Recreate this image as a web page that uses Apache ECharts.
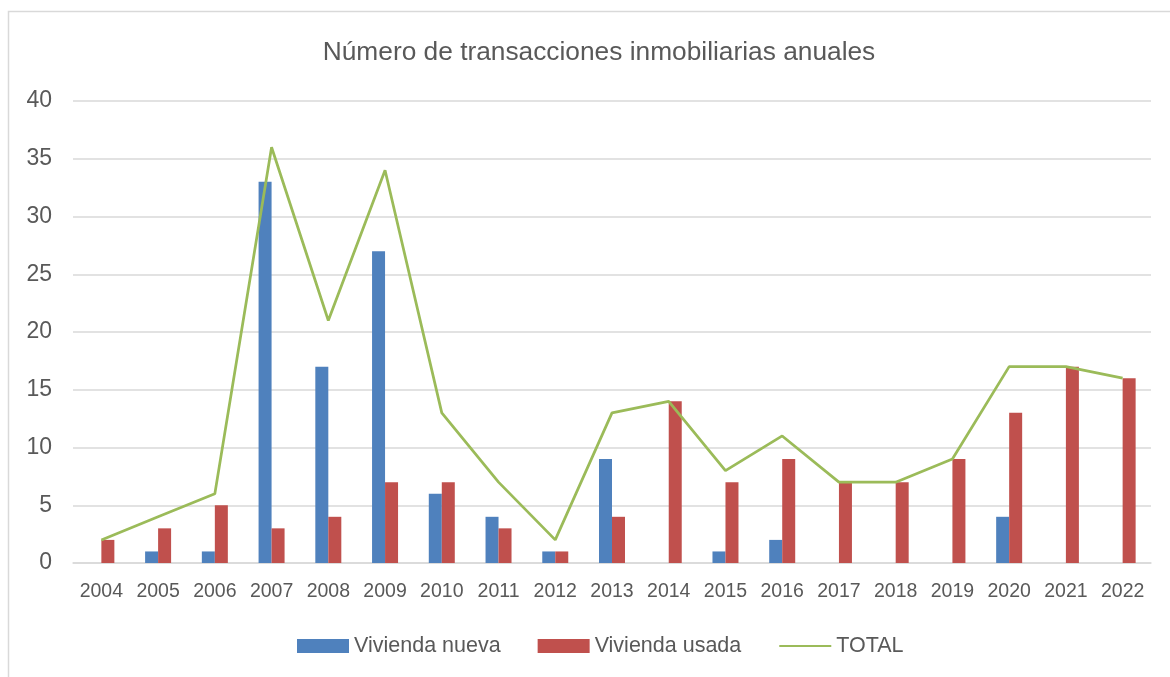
<!DOCTYPE html>
<html>
<head>
<meta charset="utf-8">
<style>
  html, body { margin: 0; padding: 0; background: #ffffff; }
  #chart { width: 1170px; height: 677px; }
</style>
<script src="https://cdn.jsdelivr.net/npm/echarts@6/dist/echarts.min.js"></script>
</head>
<body>
<div id="chart"></div>
<script>
// Annual property transactions by type
const years = ['2004','2005','2006','2007','2008','2009','2010','2011','2012','2013',
               '2014','2015','2016','2017','2018','2019','2020','2021','2022'];
const viviendaNueva = [0, 1, 1, 33, 17, 27, 6, 4, 1, 9, 0, 1, 2, 0, 0, 0, 4, 0, 0];
const viviendaUsada = [2, 3, 5, 3, 4, 7, 7, 3, 1, 4, 14, 7, 9, 7, 7, 9, 13, 17, 16];
const total = [2, 4, 6, 36, 21, 34, 13, 7, 2, 13, 14, 8, 11, 7, 7, 9, 17, 17, 16];
const yTicks = { min: 0, max: 40, interval: 5 };

const font = "'Liberation Sans', Arial, sans-serif";
const textColor = '#595959';
const gridColor = '#d9d9d9';

const chart = echarts.init(document.getElementById('chart'), null, { renderer: 'canvas' });

chart.setOption({
  animation: false,
  backgroundColor: '#ffffff',
  title: {
    text: 'Número de transacciones inmobiliarias anuales',
    left: 594,
    top: 35,
    textAlign: 'center',
    textStyle: { fontFamily: font, fontSize: 26.3, fontWeight: 'normal', color: textColor }
  },
  legend: {
    top: 630,
    left: 292,
    itemWidth: 52,
    itemHeight: 14,
    itemGap: 37,
    textStyle: { fontFamily: font, fontSize: 21.5, color: textColor },
    data: [
      { name: 'Vivienda nueva', icon: 'rect' },
      { name: 'Vivienda usada', icon: 'rect' },
      // line only: hide the centre marker of the line legend icon
      { name: 'TOTAL', itemStyle: { opacity: 0 } }
    ]
  },
  grid: { left: 73, right: 19, top: 101, bottom: 114, containLabel: false },
  xAxis: {
    type: 'category',
    data: years,
    axisLine: { lineStyle: { color: gridColor, width: 1.5 } },
    axisTick: { show: false },
    axisLabel: { fontFamily: font, fontSize: 19.5, color: textColor, margin: 19, interval: 0 }
  },
  yAxis: {
    type: 'value',
    min: yTicks.min,
    max: yTicks.max,
    interval: yTicks.interval,
    axisLine: { show: false },
    axisTick: { show: false },
    axisLabel: { fontFamily: font, fontSize: 23, color: textColor, margin: 21 },
    splitLine: { lineStyle: { color: gridColor, width: 1.5 } }
  },
  series: [
    {
      name: 'Vivienda nueva',
      type: 'bar',
      data: viviendaNueva,
      barWidth: 13,
      barGap: '0%',
      itemStyle: { color: '#4f81bd' }
    },
    {
      name: 'Vivienda usada',
      type: 'bar',
      data: viviendaUsada,
      barWidth: 13,
      barGap: '0%',
      itemStyle: { color: '#c0504d' }
    },
    {
      name: 'TOTAL',
      type: 'line',
      data: total,
      symbol: 'none',
      lineStyle: { color: '#9bbb59', width: 2.75 },
      itemStyle: { color: '#9bbb59' },
      z: 5
    }
  ],
  graphic: [
    {
      type: 'polyline',
      shape: { points: [[8.5, 677], [8.5, 11.5], [1170, 11.5]] },
      style: { stroke: '#d9d9d9', lineWidth: 1.5, fill: null },
      silent: true
    }
  ]
});
</script>
</body>
</html>
